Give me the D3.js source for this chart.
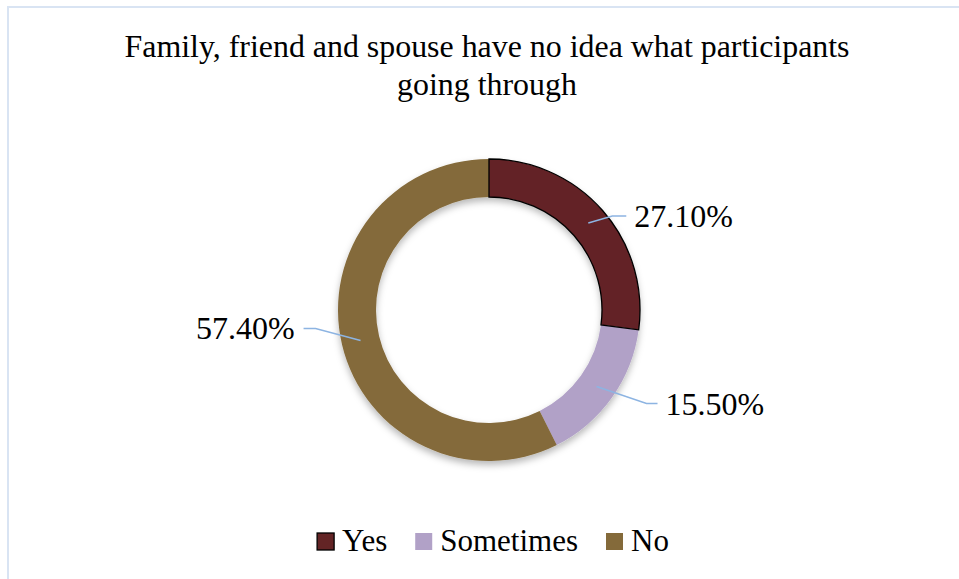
<!DOCTYPE html>
<html>
<head>
<meta charset="utf-8">
<script src="https://cdn.jsdelivr.net/npm/d3@7"></script>
<style>
  html, body { margin: 0; padding: 0; background: #fff; }
  svg { display: block; }
  text { font-family: "Liberation Serif", "Times New Roman", serif; fill: #000; }
</style>
</head>
<body>
<svg id="chart" width="959" height="579"></svg>
<script>
// Survey answers and their shares (percent)
const categories = ["Yes", "Sometimes", "No"];
const shares = [27.1, 15.5, 57.4];
const colors = ["#632425", "#b1a1c7", "#846a3a"];
const titleLines = ["Family, friend and spouse have no idea what participants", "going through"];

// Leader-line layout per slice, relative to the slice centroid: elbow and end points
const leaderLayout = [
  { elbow: [24, -7], end: [38, -7], anchor: "start" },
  { elbow: [50, 17], end: [61, 17], anchor: "start" },
  { elbow: [-45, -12], end: [-57, -12], anchor: "end" }
];

const svg = d3.select("#chart");
const W = 959, H = 579;

// Chart area border (light blue), open toward the right and bottom edges
svg.append("rect")
  .attr("x", 8).attr("y", 7)
  .attr("width", W).attr("height", H)
  .attr("fill", "none")
  .attr("stroke", "#d9e4f3")
  .attr("stroke-width", 2);

// Title
svg.append("text")
  .attr("text-anchor", "middle")
  .style("font-size", "31.9px")
  .selectAll("tspan")
  .data(titleLines)
  .join("tspan")
  .attr("x", 487)
  .attr("y", (d, i) => 57 + i * 38)
  .text(d => d);

// Soft shadow below the ring
const defs = svg.append("defs");
const shadow = defs.append("filter").attr("id", "ringShadow")
  .attr("x", "-20%").attr("y", "-20%").attr("width", "140%").attr("height", "140%");
shadow.append("feDropShadow")
  .attr("dx", 0).attr("dy", 4)
  .attr("stdDeviation", 3.5)
  .attr("flood-color", "#000")
  .attr("flood-opacity", 0.28);

const cx = 489, cy = 310;
const rInner = 113, rOuter = 151;

const data = categories.map((c, i) => ({ category: c, value: shares[i], color: colors[i], layout: leaderLayout[i] }));

const pie = d3.pie().value(d => d.value).sort(null);
const arc = d3.arc().innerRadius(rInner).outerRadius(rOuter);
const arcs = pie(data);

const g = svg.append("g").attr("transform", `translate(${cx},${cy})`);

g.append("g")
  .attr("filter", "url(#ringShadow)")
  .selectAll("path")
  .data(arcs)
  .join("path")
  .attr("d", arc)
  .attr("fill", d => d.data.color);

// Outline on the "Yes" slice
g.append("path")
  .datum(arcs[0])
  .attr("d", arc)
  .attr("fill", "none")
  .attr("stroke", "#000")
  .attr("stroke-width", 1.3);

// Leader lines and percentage labels
const fmt = d3.format(".2f");
arcs.forEach(a => {
  const [x0, y0] = arc.centroid(a);
  const L = a.data.layout;
  const x1 = x0 + L.elbow[0], y1 = y0 + L.elbow[1];
  const x2 = x0 + L.end[0], y2 = y0 + L.end[1];
  g.append("polyline")
    .attr("points", [[x0, y0], [x1, y1], [x2, y2]].map(p => p.join(",")).join(" "))
    .attr("fill", "none")
    .attr("stroke", "#8db4e2")
    .attr("stroke-width", 1.5);
  g.append("text")
    .attr("x", L.anchor === "start" ? x2 + 8 : x2 - 9)
    .attr("y", y2 + 11)
    .attr("text-anchor", L.anchor)
    .style("font-size", "32px")
    .text(fmt(a.data.value) + "%");
});

// Legend
const legend = svg.append("g");
const sq = 17, gapText = 8, gapItem = 28;
let lx = 0;
data.forEach((d, i) => {
  const item = legend.append("g").attr("transform", `translate(${lx},0)`);
  item.append("rect")
    .attr("x", 0).attr("y", -17)
    .attr("width", sq).attr("height", sq)
    .attr("fill", d.color)
    .attr("stroke", i === 0 ? "#000" : "none")
    .attr("stroke-width", 1.3);
  const t = item.append("text")
    .attr("x", sq + gapText).attr("y", 1)
    .style("font-size", "31px")
    .text(d.category);
  lx += sq + gapText + t.node().getComputedTextLength() + gapItem;
});
const legendWidth = lx - gapItem;
legend.attr("transform", `translate(${493 - legendWidth / 2},550)`);
</script>
</body>
</html>
